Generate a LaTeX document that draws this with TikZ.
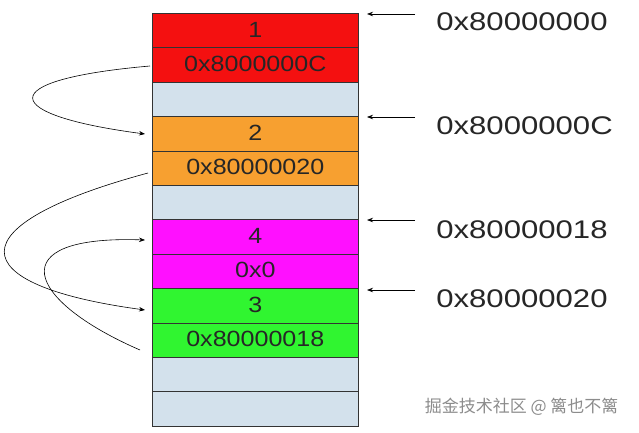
\documentclass[tikz,border=0pt]{standalone}
\usetikzlibrary{arrows.meta}
\usepackage{fontspec}
\setmainfont{Liberation Sans}
\newfontfamily\cjk{Noto Sans CJK SC}
\begin{document}
\begin{tikzpicture}[x=1pt,y=-1pt,
 cell/.style={draw=black!80,line width=0.6pt,minimum width=206pt,minimum height=34.4pt,inner sep=0pt,anchor=north west},
 celltext/.style={font=\fontsize{22}{22}\selectfont,text=black!85,xscale=1.14},
 addr/.style={font=\fontsize{25.5}{25.5}\selectfont,text=black!85,anchor=west,xscale=1.22},
 ptr/.style={-{Stealth[length=6pt]},line width=0.7pt},
 curve/.style={-{Stealth[length=6pt]},line width=0.6pt}]
\useasboundingbox (0,0) rectangle (639,433);
\definecolor{cr}{HTML}{F41010}\definecolor{co}{HTML}{F7A030}\definecolor{cb}{HTML}{D3E1EC}
\definecolor{cm}{HTML}{FF10FF}\definecolor{cg}{HTML}{30F530}
\foreach \n/\c/\t [count=\i from 0] in {r1/cr/1,r2/cr/0x8000000C,r3/cb/,r4/co/2,r5/co/0x80000020,r6/cb/,r7/cm/4,r8/cm/0x0,r9/cg/3,r10/cg/0x80000018,r11/cb/,r12/cb/}{
  \node[cell,fill=\c] (\n) at (152,13+\i*34.4) {};
  \node[celltext] (\n t) at ([yshift=1pt]\n.center) {\t};}
\node[addr] (a1) at (432,22) {0x80000000};
\node[addr] (a2) at (432,126) {0x8000000C};
\node[addr] (a3) at (432,230) {0x80000018};
\node[addr] (a4) at (432,299) {0x80000020};
\foreach \a/\y in {a1/14,a2/117,a3/220,a4/290}{
  \coordinate (s\a) at (415,\y); \coordinate (e\a) at (367,\y);
  \draw[ptr] (s\a) -- (e\a);}
\coordinate (c1s) at (150,66); \coordinate (c1e) at (145,134);
\draw[curve] (c1s) .. controls (-10,80) and (0,115) .. (c1e);
\coordinate (c2s) at (148,173); \coordinate (c2e) at (145,310);
\draw[curve] (c2s) .. controls (-45,225) and (-40,285) .. (c2e);
\coordinate (c3s) at (140,350); \coordinate (c3e) at (145,240);
\draw[curve] (c3s) .. controls (25,300) and (0,235) .. (c3e);
\node[font=\cjk\fontsize{17}{17}\selectfont,text=black!45,anchor=east] (wm) at (622,407) {掘金技术社区 @ 篱也不篱};
\end{tikzpicture}
\end{document}
